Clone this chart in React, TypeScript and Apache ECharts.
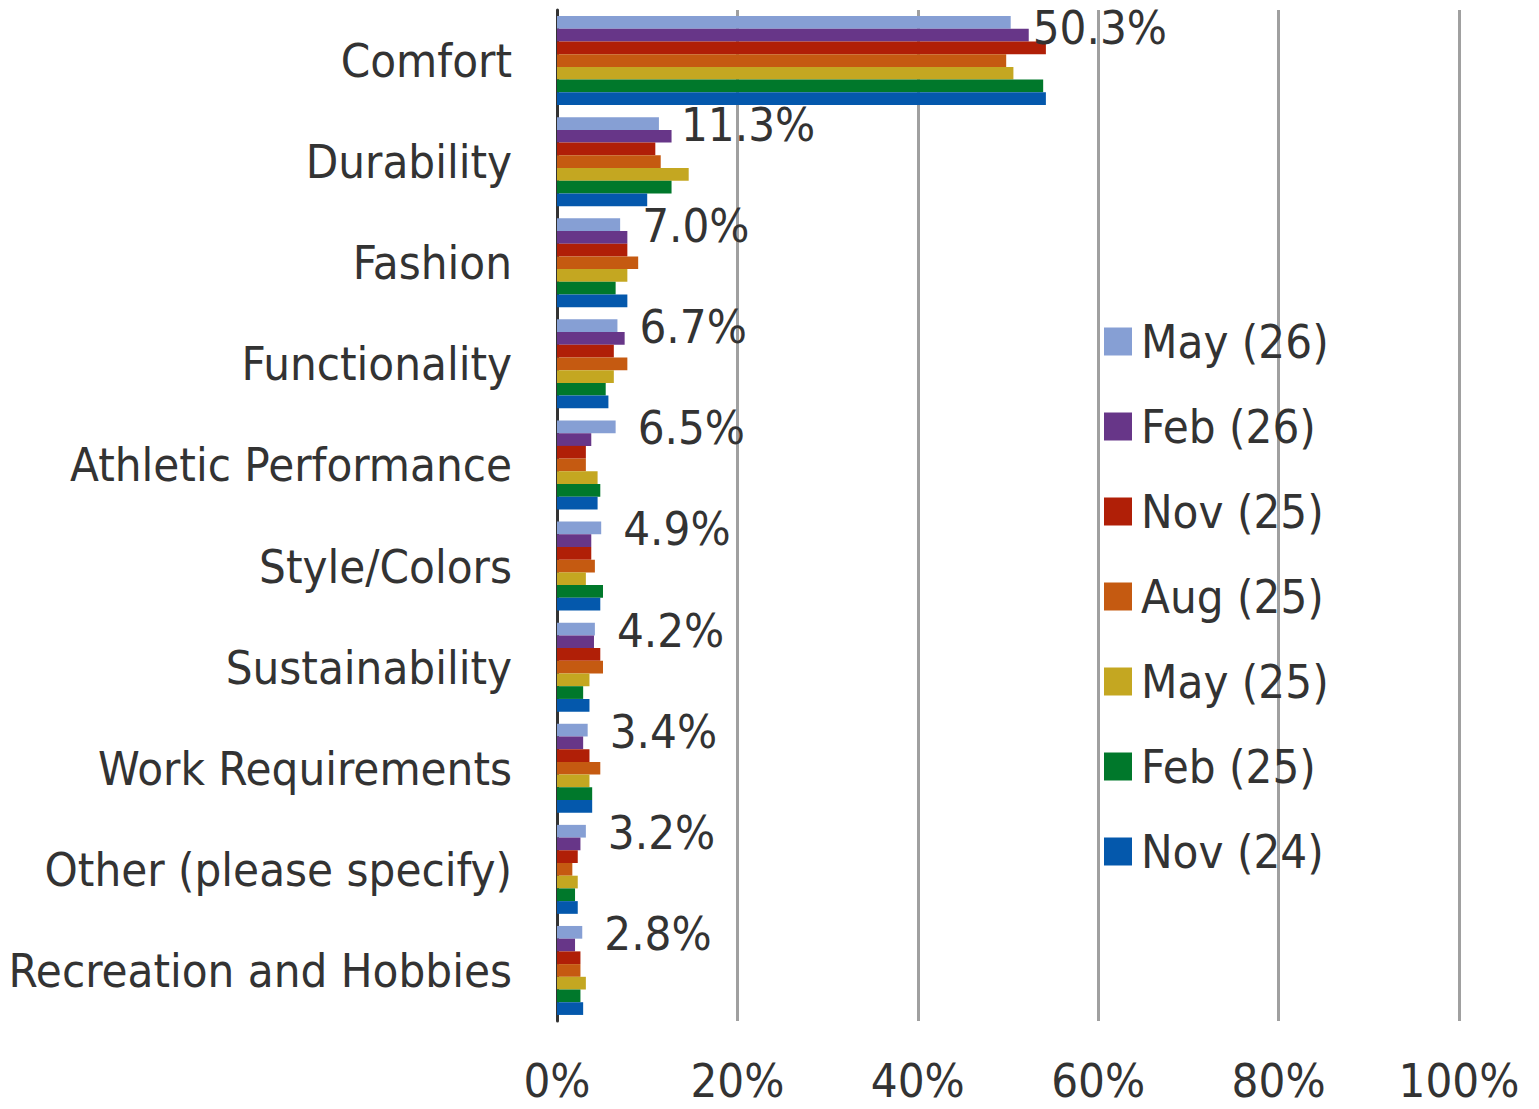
import React, { useEffect, useRef } from "react";
import * as echarts from "echarts";

const categories = [
  "Comfort",
  "Durability",
  "Fashion",
  "Functionality",
  "Athletic Performance",
  "Style/Colors",
  "Sustainability",
  "Work Requirements",
  "Other (please specify)",
  "Recreation and Hobbies",
];

const seriesNames = ["May (26)", "Feb (26)", "Nov (25)", "Aug (25)", "May (25)", "Feb (25)", "Nov (24)"];

const may26 = [50.3, 11.3, 7.0, 6.7, 6.5, 4.9, 4.2, 3.4, 3.2, 2.8];
const feb26 = [52.3, 12.7, 7.8, 7.5, 3.8, 3.8, 4.1, 2.9, 2.6, 2.0];
const nov25 = [54.2, 10.9, 7.8, 6.3, 3.2, 3.8, 4.8, 3.6, 2.3, 2.6];
const aug25 = [49.8, 11.5, 9.0, 7.8, 3.2, 4.2, 5.1, 4.8, 1.7, 2.6];
const may25 = [50.6, 14.6, 7.8, 6.3, 4.5, 3.2, 3.6, 3.6, 2.3, 3.2];
const feb25 = [53.9, 12.7, 6.5, 5.4, 4.8, 5.1, 2.9, 3.9, 2.0, 2.6];
const nov24 = [54.2, 10.0, 7.8, 5.7, 4.5, 4.8, 3.6, 3.9, 2.3, 2.9];

const seriesValues = [may26, feb26, nov25, aug25, may25, feb25, nov24];
const colors = ["#869fd4", "#673688", "#b01f07", "#c55a11", "#c4a721", "#00782b", "#0458ac"];

const FONT = "'DejaVu Sans Condensed', 'Liberation Sans Narrow', 'DejaVu Sans', sans-serif";
const TEXT = "#333333";
const FS = 47;

export default function App() {
  const ref = useRef<HTMLDivElement>(null);
  useEffect(() => {
    if (!ref.current) return;
    const chart = echarts.init(ref.current, undefined, { renderer: "svg" });
    chart.setOption({
      animation: false,
      backgroundColor: "#ffffff",
      textStyle: { fontFamily: FONT },
      grid: { left: 557, right: 80, top: 10, bottom: 88, containLabel: false },
      legend: {
        orient: "vertical",
        left: 1099,
        top: 313,
        itemWidth: 28,
        itemHeight: 28,
        itemGap: 38,
        icon: "rect",
        textStyle: { fontFamily: FONT, fontSize: FS, color: TEXT, lineHeight: 46, padding: [0, 0, 0, 4] },
        data: seriesNames,
      },
      xAxis: {
        type: "value",
        min: 0,
        max: 100,
        interval: 20,
        axisLine: { show: false },
        axisTick: { show: false },
        splitLine: { show: true, lineStyle: { color: "#a0a0a0", width: 3 } },
        axisLabel: {
          formatter: (v: number) => v + "%",
          fontFamily: FONT,
          fontSize: FS,
          lineHeight: 42,
          color: TEXT,
          margin: 38,
        },
      },
      yAxis: {
        type: "category",
        data: categories,
        inverse: true,
        axisLine: { show: true, lineStyle: { color: "#333333", width: 3 } },
        axisTick: { show: false },
        axisLabel: { fontFamily: FONT, fontSize: FS, color: TEXT, margin: 45 },
      },
      series: seriesNames.map((name, i) => ({
        name,
        type: "bar",
        data:
          i === 0
            ? seriesValues[i].map((v, j) => (j === 0 ? { value: v, label: { offset: [0, 5] } } : v))
            : seriesValues[i],
        barGap: "0%",
        barCategoryGap: "12%",
        itemStyle: { color: colors[i] },
        label:
          i === 0
            ? {
                show: true,
                position: "right",
                distance: 22,
                offset: [0, 1],
                fontFamily: FONT,
                fontSize: FS,
                lineHeight: 40,
                color: TEXT,
                formatter: (p: any) => Number(p.value).toFixed(1) + "%",
              }
            : { show: false },
      })),
    });
    return () => chart.dispose();
  }, []);
  return (
    <div style={{ position: "absolute", left: 0, top: 0 }}>
      <div ref={ref} style={{ width: 1539, height: 1109 }} />
    </div>
  );
}
